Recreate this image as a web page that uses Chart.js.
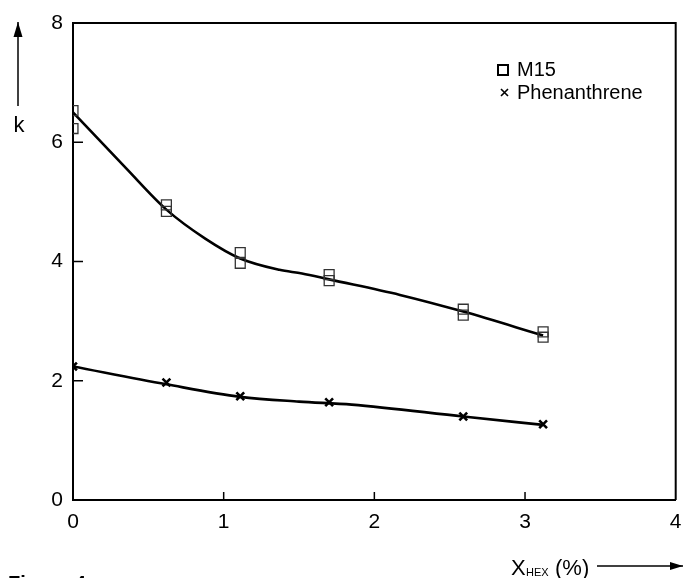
<!DOCTYPE html>
<html>
<head>
<meta charset="utf-8">
<script src="https://cdn.jsdelivr.net/npm/chart.js@4.4.1/dist/chart.umd.min.js"></script>
<style>
  html, body { margin: 0; padding: 0; background: #fff; }
  #wrap { width: 684px; height: 578px; }
</style>
</head>
<body>
<div id="wrap"><canvas id="chart4" width="684" height="578"></canvas></div>
<script>
// measured points (two runs per level for M15)
const xhex = [0, 0.62, 1.11, 1.70, 2.59, 3.12];
const m15RunA = [6.53, 4.95, 4.15, 3.78, 3.20, 2.82];
const m15RunB = [6.23, 4.84, 3.97, 3.68, 3.10, 2.73];
const phen = [2.24, 1.97, 1.74, 1.64, 1.40, 1.27];

// hand drawn fit curves
const m15FitX = [0, 0.35, 0.62, 0.88, 1.11, 1.37, 1.52, 1.70, 2.17, 2.59, 3.12];
const m15FitK = [6.50, 5.57, 4.87, 4.38, 4.05, 3.86, 3.80, 3.70, 3.44, 3.16, 2.76];
const phenFitX = [0, 0.62, 1.11, 1.50, 1.85, 2.59, 3.12];
const phenFitK = [2.24, 1.94, 1.73, 1.65, 1.60, 1.40, 1.26];

const xTicks = [0, 1, 2, 3, 4];
const yTicks = [0, 2, 4, 6, 8];

const FONT = "'Liberation Sans', Arial, Helvetica, sans-serif";

function pts(xs, ys) {
  return xs.map((x, i) => ({ x: x, y: ys[i] }));
}

function arrow(ctx, x1, y1, x2, y2, head, half) {
  ctx.beginPath();
  ctx.moveTo(x1, y1);
  ctx.lineTo(x2, y2);
  ctx.stroke();
  const a = Math.atan2(y2 - y1, x2 - x1);
  ctx.beginPath();
  ctx.moveTo(x2, y2);
  ctx.lineTo(x2 - head * Math.cos(a) + half * Math.sin(a), y2 - head * Math.sin(a) - half * Math.cos(a));
  ctx.lineTo(x2 - head * Math.cos(a) - half * Math.sin(a), y2 - head * Math.sin(a) + half * Math.cos(a));
  ctx.closePath();
  ctx.fill();
}

const extras = {
  id: 'extras',
  afterDraw(chart) {
    const ctx = chart.ctx;
    const a = chart.chartArea;
    const xs = chart.scales.x, ys = chart.scales.y;
    ctx.save();
    ctx.strokeStyle = '#000';
    ctx.fillStyle = '#000';

    // top and right frame
    ctx.lineWidth = 2;
    ctx.beginPath();
    ctx.moveTo(a.left, a.top);
    ctx.lineTo(a.right, a.top);
    ctx.lineTo(a.right, a.bottom);
    ctx.stroke();

    // inward ticks
    ctx.lineWidth = 1.5;
    yTicks.slice(1, -1).forEach(v => {
      const y = ys.getPixelForValue(v);
      ctx.beginPath(); ctx.moveTo(a.left, y); ctx.lineTo(a.left + 10, y); ctx.stroke();
    });
    xTicks.slice(1, -1).forEach(v => {
      const x = xs.getPixelForValue(v);
      ctx.beginPath(); ctx.moveTo(x, a.bottom); ctx.lineTo(x, a.bottom - 8); ctx.stroke();
    });

    // y title with arrow
    ctx.lineWidth = 1.5;
    arrow(ctx, 18, 106, 18, 22, 15, 4.5);
    ctx.font = '22px ' + FONT;
    ctx.textAlign = 'center';
    ctx.textBaseline = 'alphabetic';
    ctx.fillText('k', 19, 132);

    // x title with arrow
    ctx.textAlign = 'left';
    ctx.font = '22px ' + FONT;
    ctx.fillText('X', 511, 575);
    ctx.font = '11px ' + FONT;
    ctx.fillText('HEX', 526, 576);
    ctx.font = '22px ' + FONT;
    ctx.fillText('(%)', 555, 575);
    arrow(ctx, 597, 566, 683, 566, 13, 4);

    // legend
    ctx.font = '20px ' + FONT;
    ctx.lineWidth = 2;
    ctx.strokeRect(498, 65, 10, 10);
    ctx.fillText(chart.data.datasets[0].label, 517, 76);
    ctx.lineWidth = 1.6;
    ctx.beginPath();
    ctx.moveTo(501, 89); ctx.lineTo(508, 96);
    ctx.moveTo(508, 89); ctx.lineTo(501, 96);
    ctx.stroke();
    ctx.fillText(chart.data.datasets[2].label, 517, 99);

    // caption, cut by the page edge
    ctx.font = 'bold 20px ' + FONT;
    ctx.textBaseline = 'top';
    ctx.fillText('Figure 4', 8, 574);
    ctx.restore();
  }
};

new Chart(document.getElementById('chart4'), {
  type: 'scatter',
  plugins: [extras],
  data: {
    datasets: [
      {
        label: 'M15',
        data: pts(xhex, m15RunA).concat(pts(xhex, m15RunB)),
        pointStyle: 'rect',
        pointRadius: 7,
        borderColor: '#333',
        backgroundColor: 'rgba(0,0,0,0)',
        pointBorderWidth: 1.3
      },
      {
        label: 'M15 fit',
        data: pts(m15FitX, m15FitK),
        showLine: true,
        pointRadius: 0,
        borderColor: '#000',
        borderWidth: 2.6,
        cubicInterpolationMode: 'monotone'
      },
      {
        label: 'Phenanthrene',
        data: pts(xhex, phen),
        pointStyle: 'crossRot',
        pointRadius: 5.5,
        borderColor: '#000',
        pointBorderWidth: 2.6
      },
      {
        label: 'Phenanthrene fit',
        data: pts(phenFitX, phenFitK),
        showLine: true,
        pointRadius: 0,
        borderColor: '#000',
        borderWidth: 2.6,
        cubicInterpolationMode: 'monotone'
      }
    ]
  },
  options: {
    responsive: false,
    animation: false,
    layout: { padding: { top: 23, right: 5, left: 0, bottom: 0 } },
    plugins: {
      legend: { display: false },
      tooltip: { enabled: false }
    },
    scales: {
      x: {
        min: 0, max: 4,
        afterFit(scale) { scale.height = 78; scale.paddingRight = 0; },
        grid: { display: false, drawTicks: false },
        border: { color: '#000', width: 2 },
        ticks: {
          stepSize: 1, padding: 10, color: '#000',
          font: { family: FONT, size: 21 }
        }
      },
      y: {
        min: 0, max: 8,
        afterFit(scale) { scale.width = 73; },
        grid: { display: false, drawTicks: false },
        border: { color: '#000', width: 2 },
        ticks: {
          stepSize: 2, padding: 10, color: '#000',
          font: { family: FONT, size: 21 }
        }
      }
    }
  }
});
</script>
</body>
</html>
